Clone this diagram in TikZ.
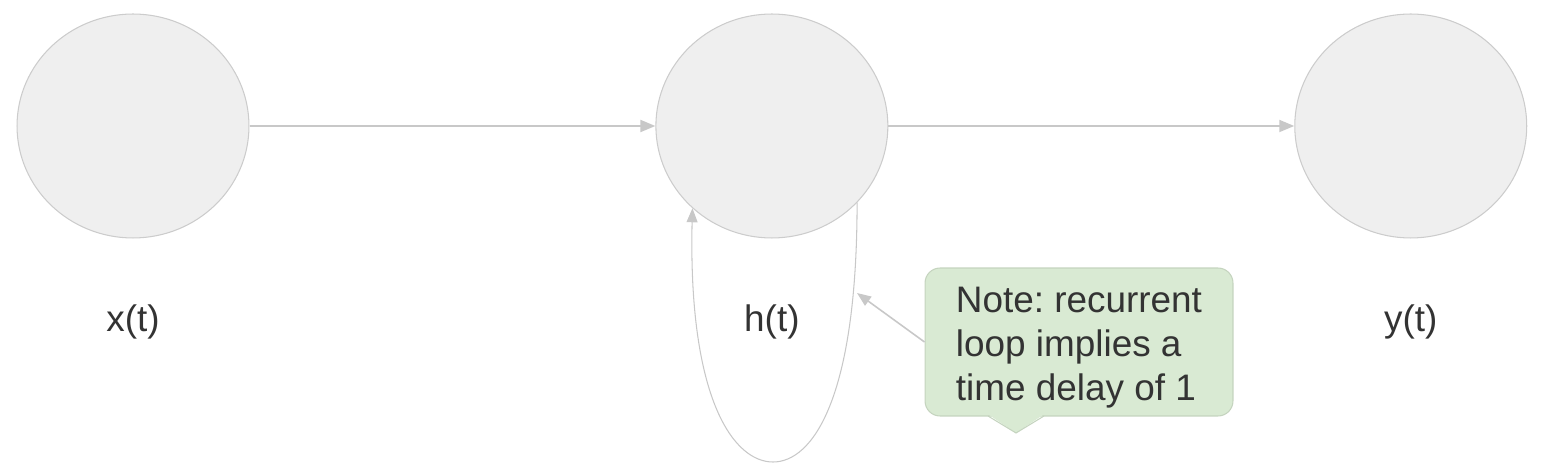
\documentclass[tikz,border=0pt]{standalone}
\usepackage{fontspec}
\setmainfont{Liberation Sans}
\usetikzlibrary{arrows.meta,shapes.geometric}
\usetikzlibrary{positioning}
\frenchspacing
\definecolor{cellfill}{HTML}{EFEFEF}
\definecolor{cellline}{HTML}{CCCCCC}
\definecolor{wire}{HTML}{C8C8C8}
\definecolor{notefill}{HTML}{D9EAD3}
\definecolor{noteline}{HTML}{C5D4BF}
\definecolor{labeltext}{HTML}{333333}
\tikzset{
    cell/.style={
           ellipse,
           draw=cellline, line width=0.6pt,
           fill=cellfill,
           minimum width=4.64cm,
           minimum height=4.48cm,
           },
}
\tikzset{
    tag/.style={
           text=labeltext,
           font=\fontsize{21}{25}\selectfont,
           },
}
\tikzset{
    wirearrow/.style={
           draw=wire, line width=1.1pt,
           -{Triangle[length=0.3cm,width=0.24cm]},
           },
}
\tikzset{
    note/.style={
           rectangle, rounded corners=0.3cm,
           draw=noteline, line width=0.6pt,
           fill=notefill,
           text=labeltext,
           font=\fontsize{21}{25}\selectfont,
           align=left,
           inner ysep=0pt,
           minimum width=6.16cm,
           minimum height=2.96cm,
           },
}

\begin{document}
\begin{tikzpicture}[x=0.02cm,y=-0.02cm]
\useasboundingbox (0,0) rectangle (1558,469);
% the three cells
\node[cell](x) at (133,126){};
\node[cell,right of = x,node distance=12.78cm](h){};
\node[cell,right of = h,node distance=12.78cm](y){};
% names under the cells
\node[tag,below of = x,node distance=3.92cm](xlabel){x(t)};
\node[tag,below of = h,node distance=3.92cm](hlabel){h(t)};
\node[tag,below of = y,node distance=3.92cm](ylabel){y(t)};
% forward connections
\draw[wirearrow] (x) -- (h);
\draw[wirearrow] (h) -- (y);
% recurrent loop
\draw[draw=wire, line width=0.6pt, -{Triangle[length=0.28cm,width=0.22cm]}]
    (h.-42) .. controls (857,400) and (812,462) .. (773,462)
            .. controls (734,462) and (688,400) .. (h.-134);
% the note
\node[note](note) at (1079,342){\rule{0pt}{21pt}Note: recurrent\\loop implies a\\time delay of 1};
\coordinate (tipl) at (988,416);
\coordinate (tipr) at (1044,416);
\coordinate (tip) at (1016,433);
\fill[notefill] ([yshift=1pt]tipl) -- (tip) -- ([yshift=1pt]tipr) -- cycle;
\draw[noteline, line width=0.6pt] (tipl) -- (tip) -- (tipr);
\coordinate (loopmark) at (857,293);
\draw[draw=wire, line width=0.9pt, -{Triangle[length=0.28cm,width=0.22cm]}] (note.west) -- (loopmark);
\end{tikzpicture}
\end{document}
